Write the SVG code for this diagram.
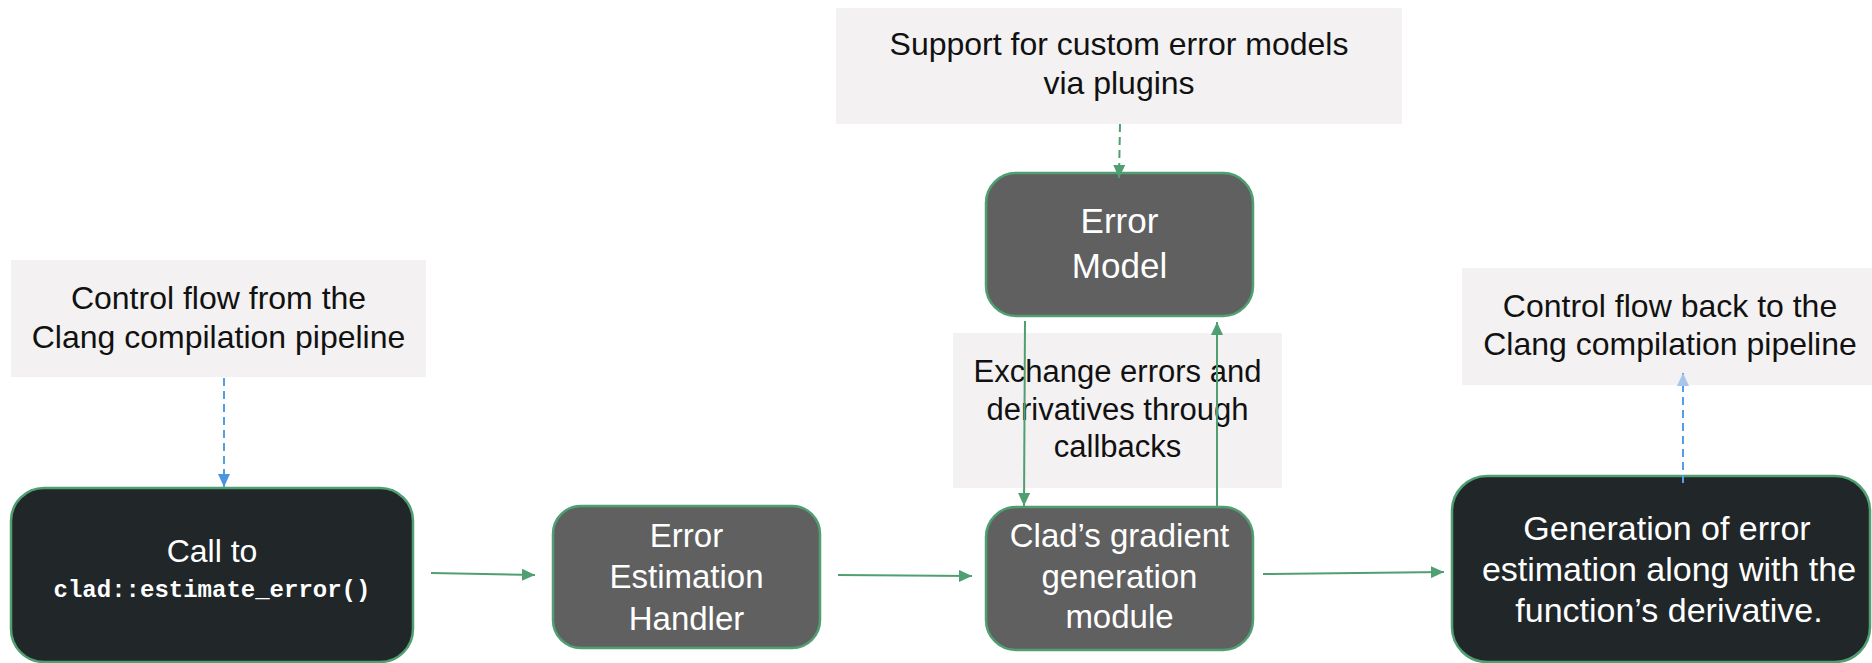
<svg xmlns="http://www.w3.org/2000/svg" width="1872" height="663" viewBox="0 0 1872 663">
  <style>
    .note { fill: #f3f1f2; }
    .notetext { font-family: "Liberation Sans", Arial, sans-serif; fill: #111111; text-anchor: middle; }
    .dark { fill: #212628; stroke: #4f9f72; stroke-width: 2.5; }
    .mid { fill: #606060; stroke: #4f9f72; stroke-width: 2.5; }
    .nodetext { font-family: "Liberation Sans", Arial, sans-serif; fill: #ffffff; text-anchor: middle; }
    .mono { font-family: "Liberation Mono", "DejaVu Sans Mono", monospace; font-weight: bold; font-size: 24px; fill: #ffffff; text-anchor: middle; }
    .edge { fill: none; stroke: #4f9f72; stroke-width: 2; }
    .dashg { fill: none; stroke: #4f9f72; stroke-width: 2; stroke-dasharray: 8 5; }
    .dashb { fill: none; stroke: #569ee3; stroke-width: 2; stroke-dasharray: 8 5; }
  </style>
  <defs>
    <marker id="ag" markerUnits="userSpaceOnUse" markerWidth="14" markerHeight="12" refX="13" refY="6" orient="auto">
      <path d="M0,0 L13,6 L0,12 Z" fill="#4f9f72"/>
    </marker>
    <marker id="ab" markerUnits="userSpaceOnUse" markerWidth="14" markerHeight="12" refX="13" refY="6" orient="auto">
      <path d="M0,0 L13,6 L0,12 Z" fill="#4a95e0"/>
    </marker>
    <marker id="abl" markerUnits="userSpaceOnUse" markerWidth="14" markerHeight="12" refX="13" refY="6" orient="auto">
      <path d="M0,0 L13,6 L0,12 Z" fill="#a6c7ea"/>
    </marker>
  </defs>

  <g id="note-control-from">
    <rect class="note" x="11" y="260" width="415" height="117"/>
    <text class="notetext" font-size="32" x="218.5" y="309">Control flow from the</text>
    <text class="notetext" font-size="32" x="218.5" y="348">Clang compilation pipeline</text>
  </g>
  <g id="note-plugins">
    <rect class="note" x="836" y="8" width="566" height="116"/>
    <text class="notetext" font-size="32" x="1119" y="55">Support for custom error models</text>
    <text class="notetext" font-size="32" x="1119" y="94">via plugins</text>
  </g>
  <g id="note-exchange">
    <rect class="note" x="953" y="333" width="329" height="155"/>
    <text class="notetext" font-size="31" x="1117.5" y="382">Exchange errors and</text>
    <text class="notetext" font-size="31" x="1117.5" y="420">derivatives through</text>
    <text class="notetext" font-size="31" x="1117.5" y="457">callbacks</text>
  </g>
  <g id="note-control-back">
    <rect class="note" x="1462" y="268" width="416" height="117"/>
    <text class="notetext" font-size="32" x="1670" y="317">Control flow back to the</text>
    <text class="notetext" font-size="32" x="1670" y="355">Clang compilation pipeline</text>
  </g>

  <g id="node-call">
    <rect class="dark" x="11" y="488" width="402" height="174" rx="33" ry="33"/>
    <text class="nodetext" font-size="32" x="212" y="562">Call to</text>
    <text class="mono" x="212" y="597">clad::estimate_error()</text>
  </g>
  <g id="node-handler">
    <rect class="mid" x="553" y="506" width="267" height="142" rx="28" ry="28"/>
    <text class="nodetext" font-size="33" x="686.5" y="547">Error</text>
    <text class="nodetext" font-size="33" x="686.5" y="588">Estimation</text>
    <text class="nodetext" font-size="33" x="686.5" y="630">Handler</text>
  </g>
  <g id="node-error-model">
    <rect class="mid" x="986" y="173" width="267" height="143" rx="30" ry="30"/>
    <text class="nodetext" font-size="35" x="1119.5" y="233">Error</text>
    <text class="nodetext" font-size="35" x="1119.5" y="278">Model</text>
  </g>
  <g id="node-gradient">
    <rect class="mid" x="986" y="507" width="267" height="143" rx="30" ry="30"/>
    <text class="nodetext" font-size="33" x="1119.5" y="547">Clad’s gradient</text>
    <text class="nodetext" font-size="33" x="1119.5" y="588">generation</text>
    <text class="nodetext" font-size="33" x="1119.5" y="628">module</text>
  </g>
  <g id="node-output">
    <rect class="dark" x="1452" y="476" width="418" height="186" rx="35" ry="35"/>
    <text class="nodetext" font-size="34" x="1667" y="540">Generation of error</text>
    <text class="nodetext" font-size="34" x="1669" y="581">estimation along with the</text>
    <text class="nodetext" font-size="34" x="1669" y="622">function’s derivative.</text>
  </g>

  <g id="connectors">
    <path class="dashb" d="M224,378 L224,487" marker-end="url(#ab)"/>
    <path class="edge" d="M431,573 L535,575" marker-end="url(#ag)"/>
    <path class="edge" d="M838,575 L972,576" marker-end="url(#ag)"/>
    <path class="edge" d="M1263,574 L1444,572" marker-end="url(#ag)"/>
    <path class="dashg" d="M1120,124 L1119,178" marker-end="url(#ag)"/>
    <path class="edge" d="M1025,321 L1024,506" marker-end="url(#ag)"/>
    <path class="edge" d="M1217,506 L1217,322" marker-end="url(#ag)"/>
    <path class="dashb" d="M1683,483 L1683,373" marker-end="url(#abl)"/>
  </g>
</svg>
